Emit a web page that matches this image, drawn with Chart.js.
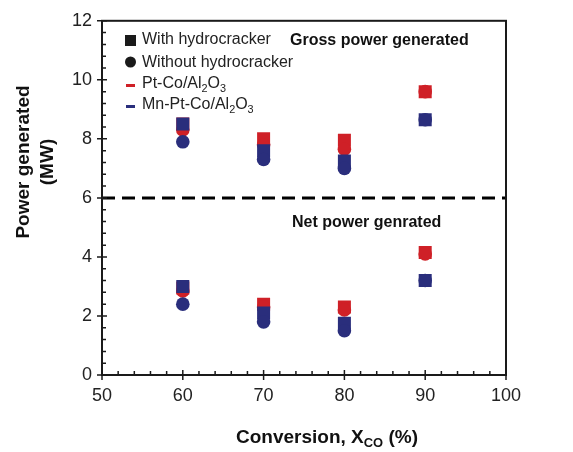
<!DOCTYPE html>
<html>
<head>
<meta charset="utf-8">
<script src="https://cdn.jsdelivr.net/npm/chart.js@4"></script>
<style>
  html, body { margin: 0; padding: 0; background: #fff; }
  #wrap { width: 573px; height: 452px; }
</style>
</head>
<body>
<div id="wrap"><canvas id="myChart" width="573" height="452"></canvas></div>
<script>
// conversion (%) on x
const conversion = [60, 70, 80, 90];

// gross power generated (MW)
const grossPtCoWith = [8.5, 8.0, 7.95, 9.6];
const grossPtCoWithout = [8.3, 7.8, 7.65, 9.6];
const grossMnWith = [8.5, 7.6, 7.25, 8.65];
const grossMnWithout = [7.9, 7.3, 7.0, 8.65];

// net power generated (MW)
const netPtCoWith = [2.95, 2.4, 2.3, 4.15];
const netPtCoWithout = [2.85, 2.3, 2.2, 4.1];
const netMnWith = [3.0, 2.1, 1.75, 3.2];
const netMnWithout = [2.4, 1.8, 1.5, 3.2];

const xTicks = [50, 60, 70, 80, 90, 100];
const yTicks = [0, 2, 4, 6, 8, 10, 12];
const divider = 6;

const red = "#cf2027";
const blue = "#2a2e7c";
const ink = "#1a1a1a";
const FONT = "'Liberation Sans', Arial, sans-serif";

const pts = (ys) => conversion.map((x, i) => ({ x: x, y: ys[i] }));

// draw text made of pieces, some of them subscript
function richText(ctx, parts, x, y, size, weight, align) {
  ctx.textBaseline = "middle";
  ctx.textAlign = "left";
  let total = 0;
  parts.forEach((p) => {
    ctx.font = weight + " " + (p.sub ? size * 0.68 : size) + "px " + FONT;
    p.w = ctx.measureText(p.t).width;
    total += p.w;
  });
  let cx = align === "center" ? x - total / 2 : x;
  parts.forEach((p) => {
    ctx.font = weight + " " + (p.sub ? size * 0.68 : size) + "px " + FONT;
    ctx.fillText(p.t, cx, p.sub ? y + size * 0.3 : y);
    cx += p.w;
  });
}

const decor = {
  id: "decor",
  afterDraw(chart) {
    const ctx = chart.ctx;
    const xs = chart.scales.x, ys = chart.scales.y;
    const a = chart.chartArea;
    ctx.save();
    ctx.strokeStyle = ink;
    ctx.lineWidth = 2;
    ctx.strokeRect(a.left, a.top, a.right - a.left, a.bottom - a.top);

    ctx.lineWidth = 1.5;
    ctx.beginPath();
    // x ticks
    for (let v = 50; v <= 100; v += 2) {
      const px = xs.getPixelForValue(v);
      const major = v % 10 === 0;
      ctx.moveTo(px, a.bottom + (major ? 5 : 0));
      ctx.lineTo(px, a.bottom - (major ? 5 : 4));
    }
    // y ticks
    for (let k = 0; k <= 30; k++) {
      const v = k * 0.4;
      const py = ys.getPixelForValue(v);
      const major = k % 5 === 0;
      ctx.moveTo(a.left - (major ? 5 : 0), py);
      ctx.lineTo(a.left + (major ? 5 : 4), py);
    }
    ctx.stroke();

    ctx.fillStyle = ink;
    // legend
    const lx = a.left + 28;
    ctx.fillRect(lx - 5, 35, 11, 11);
    ctx.beginPath();
    ctx.arc(lx + 0.5, 62, 5.5, 0, Math.PI * 2);
    ctx.fill();
    ctx.fillStyle = red;
    ctx.fillRect(lx - 4, 84, 9, 3);
    ctx.fillStyle = blue;
    ctx.fillRect(lx - 4, 105, 9, 3);
    ctx.fillStyle = "#222";
    const tx = lx + 12;
    richText(ctx, [{ t: "With hydrocracker" }], tx, 40, 16, "normal");
    richText(ctx, [{ t: "Without hydrocracker" }], tx, 63, 16, "normal");
    richText(ctx, [{ t: "Pt-Co/Al" }, { t: "2", sub: true }, { t: "O" }, { t: "3", sub: true }], tx, 84, 16, "normal");
    richText(ctx, [{ t: "Mn-Pt-Co/Al" }, { t: "2", sub: true }, { t: "O" }, { t: "3", sub: true }], tx, 105, 16, "normal");

    // section labels
    ctx.fillStyle = "#111";
    richText(ctx, [{ t: "Gross power generated" }], 290, 41, 16, "bold");
    richText(ctx, [{ t: "Net power genrated" }], 292, 223, 16, "bold");

    // axis titles
    richText(ctx, [{ t: "Conversion, X" }, { t: "CO", sub: true }, { t: " (%)" }], 327, 438, 19, "bold", "center");
    ctx.translate(24, 162);
    ctx.rotate(-Math.PI / 2);
    richText(ctx, [{ t: "Power generated" }], 0, 0, 19, "bold", "center");
    richText(ctx, [{ t: "(MW)" }], 0, 24, 19, "bold", "center");
    ctx.restore();
  },
};

const sq = { pointStyle: "rect", pointRadius: 9.2, pointHoverRadius: 9.2, borderWidth: 0 };
const dot = { pointStyle: "circle", pointRadius: 6.8, pointHoverRadius: 6.8, borderWidth: 0 };

new Chart(document.getElementById("myChart"), {
  type: "scatter",
  data: {
    datasets: [
      { label: "Mn without", data: pts(grossMnWithout).concat(pts(netMnWithout)), backgroundColor: blue, ...dot },
      { label: "Mn with", data: pts(grossMnWith).concat(pts(netMnWith)), backgroundColor: blue, ...sq },
      { label: "PtCo without", data: pts(grossPtCoWithout).concat(pts(netPtCoWithout)), backgroundColor: red, ...dot },
      { label: "PtCo with", data: pts(grossPtCoWith).concat(pts(netPtCoWith)), backgroundColor: red, ...sq },
      {
        label: "divider",
        data: [{ x: xTicks[0], y: divider }, { x: xTicks[xTicks.length - 1], y: divider }],
        showLine: true,
        borderColor: "#000",
        borderWidth: 3,
        borderDash: [13, 7],
        pointRadius: 0,
      },
    ],
  },
  options: {
    responsive: false,
    animation: false,
    layout: { padding: { top: 20, right: 67, left: 0, bottom: 0 } },
    plugins: { legend: { display: false }, tooltip: { enabled: false } },
    scales: {
      x: {
        type: "linear",
        min: 50,
        max: 100,
        afterBuildTicks: (s) => { s.ticks = xTicks.map((v) => ({ value: v })); },
        afterFit: (s) => { s.height = 77; },
        grid: { display: false, drawTicks: false },
        border: { display: false },
        ticks: { padding: 10, color: "#222", font: { family: FONT, size: 18 } },
      },
      y: {
        min: 0,
        max: 12,
        afterBuildTicks: (s) => { s.ticks = yTicks.map((v) => ({ value: v })); },
        afterFit: (s) => { s.width = 102; },
        grid: { display: false, drawTicks: false },
        border: { display: false },
        ticks: { padding: 10, color: "#222", font: { family: FONT, size: 18 } },
      },
    },
  },
  plugins: [decor],
});
</script>
</body>
</html>
